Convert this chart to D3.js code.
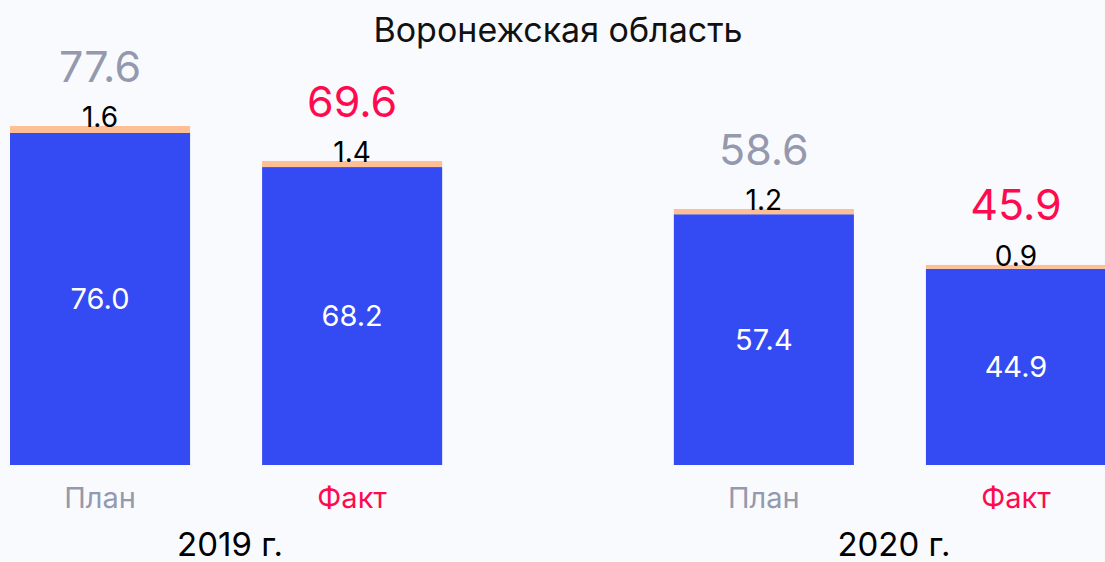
<!DOCTYPE html>
<html>
<head>
<meta charset="utf-8">
<script src="https://cdn.jsdelivr.net/npm/d3@7"></script>
<style>
  html, body { margin: 0; padding: 0; background: #f9fafe; }
  svg { display: block; font-family: Inter, "Noto Sans", sans-serif; }
</style>
</head>
<body>
<div id="chart"></div>
<script>
// data
const years = ["2019 г.", "2020 г."]
const kinds = ["План", "Факт"]
const mainVals = [[76.0, 68.2], [57.4, 44.9]]
const extraVals = [[1.6, 1.4], [1.2, 0.9]]
const totals = [[77.6, 69.6], [58.6, 45.9]]

const width = 1105, height = 562
const baseY = 465

const svg = d3.select("#chart").append("svg")
    .attr("width", width)
    .attr("height", height)

svg.append("rect").attr("width", width).attr("height", height).attr("fill", "#f9fafe")

const x0 = d3.scaleBand().domain(years).range([10, 1106]).paddingInner(0.349).paddingOuter(0)
const x1 = d3.scaleBand().domain(kinds).range([0, x0.bandwidth()]).paddingInner(0.2857).paddingOuter(0)
const y = d3.scaleLinear().domain([0, 77.6]).range([baseY, 126])

const kindColor = d3.scaleOrdinal().domain(kinds).range(["#9499ae", "#ff0a4f"])

// title
svg.append("text")
    .attr("x", 558)
    .attr("y", 42)
    .attr("text-anchor", "middle")
    .attr("font-size", "34px")
    .attr("fill", "#111")
    .text("Воронежская область")

const rows = []
years.forEach(function(yr, i) {
  kinds.forEach(function(k, j) {
    rows.push({year: yr, kind: k, main: mainVals[i][j], extra: extraVals[i][j], total: totals[i][j]})
  })
})

const g = svg.selectAll(".bar").data(rows).enter().append("g")
    .attr("class", "bar")
    .attr("transform", d => "translate(" + (x0(d.year) + x1(d.kind)) + ",0)")

const bw = x1.bandwidth()

// blue part
g.append("rect")
    .attr("x", 0)
    .attr("y", d => y(d.main))
    .attr("width", bw)
    .attr("height", d => baseY - y(d.main))
    .attr("fill", "#344af2")

// orange part
g.append("rect")
    .attr("x", 0)
    .attr("y", d => y(d.main + d.extra))
    .attr("width", bw)
    .attr("height", d => y(d.main) - y(d.main + d.extra))
    .attr("fill", "#ffbf94")

// value inside
g.append("text")
    .attr("x", bw / 2)
    .attr("y", d => (y(d.main) + baseY) / 2 + 10)
    .attr("text-anchor", "middle")
    .attr("font-size", "29px")
    .attr("fill", "#fff")
    .text(d => d.main.toFixed(1))

// small value on top
g.append("text")
    .attr("x", bw / 2)
    .attr("y", d => y(d.main + d.extra) + 1)
    .attr("text-anchor", "middle")
    .attr("font-size", "28px")
    .attr("fill", "#000")
    .text(d => d.extra.toFixed(1))

// totals
g.append("text")
    .attr("x", bw / 2)
    .attr("y", d => y(d.total) - 44)
    .attr("text-anchor", "middle")
    .attr("font-size", "43px")
    .attr("fill", d => kindColor(d.kind))
    .text(d => d.total.toFixed(1))

// category labels
g.append("text")
    .attr("x", bw / 2)
    .attr("y", 508)
    .attr("text-anchor", "middle")
    .attr("font-size", "29px")
    .attr("fill", d => kindColor(d.kind))
    .text(d => d.kind)

// year labels
svg.selectAll(".year").data(years).enter().append("text")
    .attr("class", "year")
    .attr("x", d => x0(d) + x0.bandwidth() / 2 + 4)
    .attr("y", 556)
    .attr("text-anchor", "middle")
    .attr("font-size", "33px")
    .attr("fill", "#000")
    .text(d => d)
</script>
</body>
</html>
